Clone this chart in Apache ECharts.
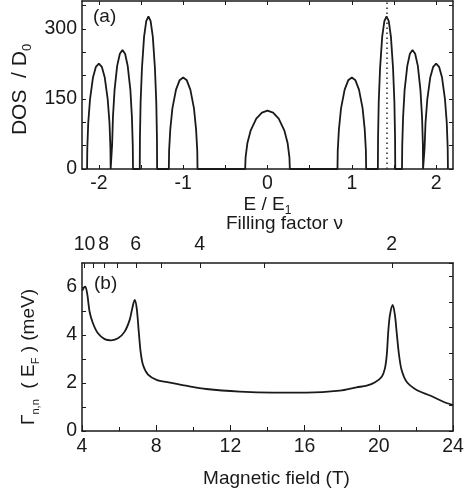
<!DOCTYPE html>
<html><head><meta charset="utf-8">
<script src="https://cdn.jsdelivr.net/npm/echarts@6/dist/echarts.min.js"></script>
<style>html,body{margin:0;padding:0;background:#fff}#c{width:471px;height:495px}</style>
</head><body><div id="c"></div>
<script>
// ---- panel (a): density of states vs E/E1 ----
const dosE = [
-2.140,-2.137,-2.126,-2.105,-2.070,-2.035,-2.000,-1.965,-1.930,-1.895,-1.874,-1.863,-1.860,
-1.845,-1.843,-1.833,-1.814,-1.783,-1.751,-1.720,-1.689,-1.658,-1.626,-1.608,-1.598,-1.595,
-1.515,-1.513,-1.505,-1.489,-1.464,-1.438,-1.412,-1.386,-1.360,-1.335,-1.319,-1.311,-1.309,
-1.170,-1.167,-1.153,-1.128,-1.085,-1.043,-1.000,-0.957,-0.915,-0.872,-0.847,-0.833,-0.830,
-0.265,-0.260,-0.239,-0.199,-0.133,-0.066,0,0.066,0.133,0.199,0.239,0.260,0.265,
0.830,0.833,0.847,0.872,0.915,0.957,1.000,1.043,1.085,1.128,1.153,1.167,1.170,
1.309,1.311,1.319,1.335,1.360,1.386,1.412,1.438,1.464,1.489,1.505,1.513,1.515,
1.595,1.598,1.608,1.626,1.658,1.689,1.720,1.751,1.783,1.814,1.833,1.843,1.845,
1.860,1.863,1.874,1.895,1.930,1.965,2.000,2.035,2.070,2.105,2.126,2.137,2.140
];
const dosValue = [
0,45,99,149,196,219,226,219,196,149,99,45,0,
0,51,111,169,221,247,255,247,221,169,111,51,0,
0,65,143,216,283,317,327,317,283,216,143,65,0,
0,39,85,130,170,190,196,190,170,130,85,39,0,
0,25,55,83,108,121,125,121,108,83,55,25,0,
0,39,85,130,170,190,196,190,170,130,85,39,0,
0,65,143,216,283,317,327,317,283,216,143,65,0,
0,51,111,169,221,247,255,247,221,169,111,51,0,
0,45,99,149,196,219,226,219,196,149,99,45,0
];
const fermiE = 1.42;
const eTicks = [-2,-1.5,-1,-0.5,0,0.5,1,1.5,2];
const eLabels = [-2,-1,0,1,2];
const dosTicks = [0,50,100,150,200,250,300,350];
const dosLabels = [0,150,300];

// ---- panel (b): Gamma_nn(E_F) vs magnetic field ----
const fieldB = [4.02,4.10,4.18,4.29,4.41,4.59,4.86,5.22,5.58,5.94,6.30,6.57,6.71,6.84,6.95,7.06,7.16,7.29,7.56,8.05,8.6,9.6,10.7,12.5,14.3,16.1,17.9,18.8,19.35,19.8,20.16,20.33,20.43,20.51,20.6,20.75,20.87,20.96,21.09,21.23,21.5,22.04,22.76,23.48,24.0];
const gammaMeV = [5.85,5.97,6.01,5.67,4.97,4.49,4.07,3.83,3.78,3.86,4.14,4.63,5.11,5.46,5.11,4.14,3.3,2.75,2.35,2.12,2.04,1.89,1.75,1.64,1.6,1.6,1.68,1.82,1.89,2.03,2.26,2.61,3.17,4.14,4.83,5.25,4.83,4.14,3.17,2.54,2.05,1.71,1.48,1.22,1.08];
const gammaTicks = [0,1,2,3,4,5,6];
const gammaLabels = [0,2,4,6];
const nuLabels = [10,8,6,4,2];
const nuTicks = [10,9,8,7,6,5,4,3,2];
const NU_B = 41.4; // filling factor * B (T)

const FONT = 'Liberation Sans, Arial, sans-serif';
const INK = '#1a1a1a';
const axLine = {show:true, onZero:false, lineStyle:{color:INK, width:1.5}};
const lbl = {color:INK, fontSize:19.5, fontFamily:FONT};

const chart = echarts.init(document.getElementById('c'), null, {renderer:'canvas'});
chart.setOption({
  animation:false,
  backgroundColor:'#fff',
  textStyle:{fontFamily:FONT},
  grid:[
    {left:82, right:18, top:1, height:168},
    {left:82, right:18, top:263, height:168}
  ],
  xAxis:[
    {gridIndex:0, type:'value', position:'bottom', min:-2.2, max:2.2,
     axisLine:axLine, splitLine:{show:false},
     axisTick:{inside:true, length:4, customValues:eTicks, lineStyle:{color:INK, width:1}},
     axisLabel:Object.assign({customValues:eLabels, margin:5}, lbl),
     name:'{m|E / E}{s|1}', nameLocation:'middle', nameGap:18,
     nameTextStyle:{rich:{m:{fontSize:19, lineHeight:22, color:INK, fontFamily:FONT, verticalAlign:'top'}, s:{fontSize:12, lineHeight:22, color:INK, fontFamily:FONT, verticalAlign:'bottom'}}}},
    {gridIndex:0, type:'value', position:'top', min:-2.2, max:2.2,
     axisLine:axLine, splitLine:{show:false},
     axisTick:{inside:true, length:4, customValues:eTicks, lineStyle:{color:INK, width:1}},
     axisLabel:{show:false}},
    {gridIndex:1, type:'value', position:'bottom', min:4, max:24, interval:4,
     axisLine:axLine, splitLine:{show:false},
     axisTick:{inside:true, length:6, lineStyle:{color:INK, width:1}},
     minorTick:{show:true, splitNumber:2, length:4, lineStyle:{color:INK, width:1}},
     axisLabel:Object.assign({margin:6}, lbl),
     name:'Magnetic field (T)', nameLocation:'middle', nameGap:38,
     nameTextStyle:{fontSize:19, color:INK, fontFamily:FONT, padding:[0,0,0,18]}},
    {gridIndex:1, type:'value', position:'top', min:4, max:24,
     axisLine:axLine, splitLine:{show:false},
     axisTick:{inside:true, length:5, customValues:nuTicks.map(v => NU_B / v), lineStyle:{color:INK, width:1}},
     axisLabel:Object.assign({customValues:nuLabels.map(v => NU_B / v), margin:8,
       formatter:v => String(Math.round(NU_B / v))}, lbl),
     name:'Filling factor ν', nameLocation:'middle', nameGap:30,
     nameTextStyle:{fontSize:19, color:INK, fontFamily:FONT, padding:[0,0,0,34]}}
  ],
  yAxis:[
    {gridIndex:0, type:'value', position:'left', min:0, max:360,
     axisLine:axLine, splitLine:{show:false},
     axisTick:{inside:true, length:4, customValues:dosTicks, lineStyle:{color:INK, width:1}},
     axisLabel:Object.assign({customValues:dosLabels, margin:5}, lbl),
     name:'{m|DOS  / D}{s|0}', nameLocation:'middle', nameGap:43,
     nameTextStyle:{padding:[0,9,0,0], rich:{m:{fontSize:21, lineHeight:24, color:INK, fontFamily:FONT, verticalAlign:'top'}, s:{fontSize:13, lineHeight:24, color:INK, fontFamily:FONT, verticalAlign:'bottom'}}}},
    {gridIndex:0, type:'value', position:'right', min:0, max:360,
     axisLine:axLine, splitLine:{show:false},
     axisTick:{inside:true, length:4, customValues:dosTicks, lineStyle:{color:INK, width:1}},
     axisLabel:{show:false}},
    {gridIndex:1, type:'value', position:'left', min:0, max:7,
     axisLine:axLine, splitLine:{show:false},
     axisTick:{inside:true, length:4, customValues:gammaTicks, lineStyle:{color:INK, width:1}},
     axisLabel:Object.assign({customValues:gammaLabels, margin:5}, lbl),
     name:'{m|Γ}{s|n,n}{m|  ( E}{s|F}{m| ) (meV)}', nameLocation:'middle', nameGap:41,
     nameTextStyle:{padding:[0,20,0,0], rich:{m:{fontSize:19, lineHeight:22, color:INK, fontFamily:FONT, verticalAlign:'top'}, s:{fontSize:11, lineHeight:22, color:INK, fontFamily:FONT, verticalAlign:'bottom'}}}},
    {gridIndex:1, type:'value', position:'right', min:0, max:6.5, interval:1,
     axisLine:axLine, splitLine:{show:false},
     axisTick:{inside:true, length:4, lineStyle:{color:INK, width:1}},
     axisLabel:{show:false}}
  ],
  graphic:[
    {type:'text', left:93, top:7, style:{text:'(a)', fontSize:19, fontFamily:FONT, fill:INK}},
    {type:'text', left:94, top:274, style:{text:'(b)', fontSize:19, fontFamily:FONT, fill:INK}}
  ],
  series:[
    {type:'line', xAxisIndex:0, yAxisIndex:0, showSymbol:false, symbol:'none',
     data:dosE.map((e,i) => [e, dosValue[i]]),
     lineStyle:{color:INK, width:1.8},
     markLine:{silent:true, symbol:'none', label:{show:false},
       lineStyle:{color:'#333', width:1.6, type:[1.5,3.5]},
       data:[{xAxis:fermiE}]}},
    {type:'line', xAxisIndex:2, yAxisIndex:2, showSymbol:false, symbol:'none', smooth:0.3,
     data:fieldB.map((b,i) => [b, gammaMeV[i]]),
     lineStyle:{color:INK, width:1.8}}
  ]
});
</script></body></html>
